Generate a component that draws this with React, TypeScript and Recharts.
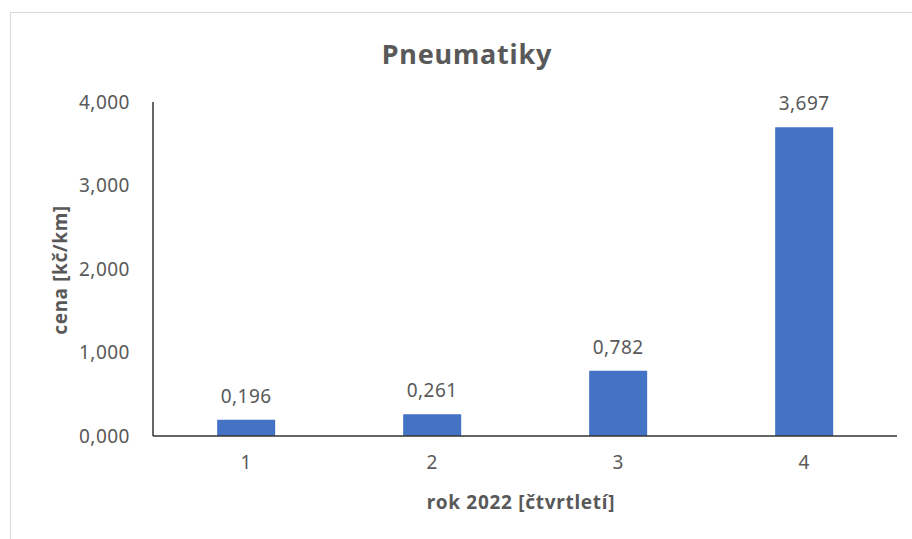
import { BarChart, Bar, XAxis, YAxis, LabelList } from "recharts";

const quarters = ["1", "2", "3", "4"];
const prices = [0.196, 0.261, 0.782, 3.697];
const yTicks = [0, 1, 2, 3, 4];

const data = quarters.map((q, i) => ({ q, cena: prices[i] }));

const grey = "#595959";
const font = "'Noto Sans', 'Open Sans', sans-serif";
const cz = (v: number) => Number(v).toFixed(3).replace(".", ",");

export default function App() {
  return (
    <div
      style={{
        position: "fixed", left: 0, top: 0, width: 912, height: 539,
        overflow: "hidden", background: "#fff", fontFamily: font,
      }}
    >
      <div
        style={{
          position: "absolute", left: 10, top: 12, width: 1000, height: 700,
          border: "1px solid #d9d9d9",
        }}
      />
      <div
        style={{
          position: "absolute", left: 0, width: 934, top: 35, textAlign: "center",
          fontSize: 27, fontWeight: 700, color: grey, letterSpacing: 0.8,
        }}
      >
        Pneumatiky
      </div>
      <div style={{ position: "absolute", left: 0, top: 0 }}>
        <BarChart
          width={912}
          height={539}
          data={data}
          margin={{ top: 102, right: 15, left: 53, bottom: 23 }}
          barCategoryGap="34.5%"
        >
          <XAxis
            dataKey="q"
            height={80}
            tickSize={0}
            tickMargin={20}
            axisLine={{ stroke: "#333", strokeWidth: 1.5 }}
            tick={{ fill: grey, fontSize: 19, fontFamily: font }}
            label={{
              value: "rok 2022 [čtvrtletí]", position: "insideBottom", offset: 7,
              dx: -4,
              fill: grey, fontSize: 19, fontWeight: 700, fontFamily: font,
              letterSpacing: 0.7,
            }}
          />
          <YAxis
            width={100}
            domain={[0, 4]}
            ticks={yTicks}
            tickFormatter={cz}
            tickSize={0}
            tickMargin={23}
            axisLine={{ stroke: "#333", strokeWidth: 1.5 }}
            tick={{ fill: grey, fontSize: 19, fontFamily: font, letterSpacing: 0.5 }}
            label={{
              content: () => (
                <text
                  x={60}
                  y={270}
                  transform="rotate(-90 60 270)"
                  textAnchor="middle"
                  dominantBaseline="central"
                  fill={grey}
                  fontSize={19}
                  fontWeight={700}
                  fontFamily={font}
                  letterSpacing={0.6}
                >
                  cena [kč/km]
                </text>
              ),
            }}
          />
          <Bar dataKey="cena" fill="#4472c4" isAnimationActive={false}>
            <LabelList
              dataKey="cena"
              position="top"
              offset={17}
              formatter={(v: any) => cz(v)}
              fill={grey}
              fontSize={19}
              fontFamily={font}
              letterSpacing={0.5}
            />
          </Bar>
        </BarChart>
      </div>
    </div>
  );
}
